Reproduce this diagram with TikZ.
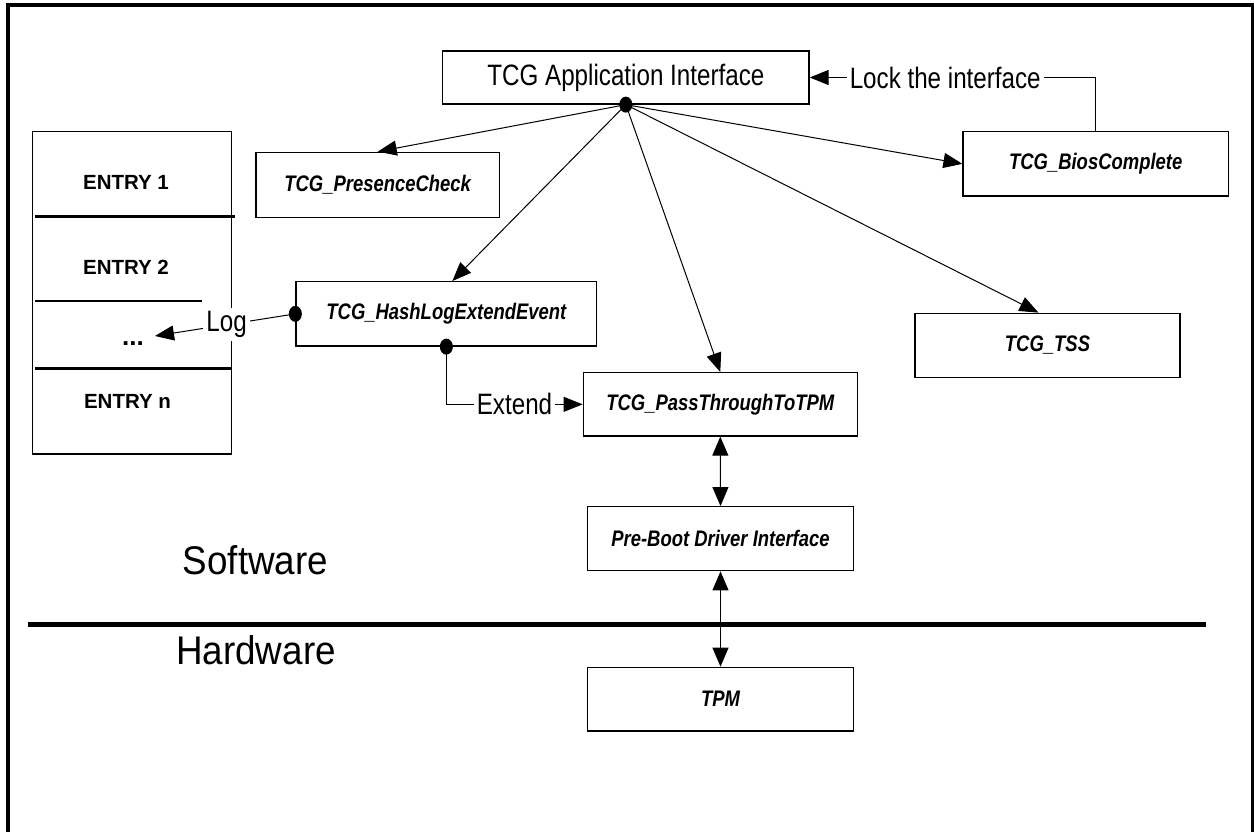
\documentclass[tikz,border=0pt]{standalone}
\usepackage{fontspec}
\setmainfont{Liberation Sans}
\newfontfamily\narrowfont[FakeStretch=0.82]{Liberation Sans}
\newfontfamily\semifont[FakeStretch=0.92]{Liberation Sans}
\usetikzlibrary{arrows.meta}
\begin{document}
\begin{tikzpicture}[x=1pt,y=-1pt,
  box/.style={draw, line width=1.3pt, inner sep=0pt,
    font=\narrowfont\fontsize{22.5}{26}\selectfont\bfseries\itshape},
  conn/.style={line width=1pt},
  arr/.style={conn, -{Triangle[length=19pt,width=15pt]}},
  darr/.style={conn, {Triangle[length=19pt,width=16pt]}-{Triangle[length=19pt,width=16pt]}},
  lbl/.style={fill=white, inner sep=3pt, font=\narrowfont\fontsize{29.5}{32}\selectfont},
  ent/.style={inner sep=0pt, font=\fontsize{20.5}{24}\selectfont\bfseries},
  sepline/.style={line width=2.6pt},
  big/.style={inner sep=0pt, anchor=base, font=\semifont\fontsize{40}{44}\selectfont},
  dot/.style={x radius=6.5pt, y radius=8pt}
]
\useasboundingbox (0,0) rectangle (1254,832);
% outer frame
\draw[line width=3.5pt] (6,5) -- (1254,5);
\draw[line width=4pt] (8,3) -- (8,832);
\draw[line width=2.6pt] (1252.7,3) -- (1252.7,832);
% software / hardware divider
\draw[line width=5pt] (28,624) -- (1206,624);

% log entries
\node[draw, line width=1.3pt, minimum width=199pt, minimum height=322.3pt, inner sep=0pt] (entries) at (132.2,292.85) {};
\draw[sepline] (35,216.7) -- (235,216.7);
\draw[sepline] (35,301) -- (201.7,301);
\draw[sepline] (35,368.7) -- (231.7,368.7);
\node[ent] (e1) at (126,182) {ENTRY 1};
\node[ent] (e2) at (126,267.5) {ENTRY 2};
\node[ent, anchor=base, font=\fontsize{26}{28}\selectfont\bfseries] (edots) at (133,345) {...};
\node[ent] (en) at (127.5,401.7) {ENTRY n};
\coordinate (logtip) at (155,336);

% boxes
\node[box, minimum width=366.3pt, minimum height=53pt,
  font=\narrowfont\fontsize{29.5}{32}\selectfont] (app) at (625.85,77.5) {TCG Application Interface};
\node[box, minimum width=243.3pt, minimum height=65pt] (presence) at (377.7,184.8) {TCG\_PresenceCheck};
\node[box, minimum width=265.3pt, minimum height=64.3pt] (bios) at (1095.7,163.85) {TCG\_BiosComplete};
\node[box, minimum width=300.7pt, minimum height=64.3pt] (hash) at (446.35,313.85) {TCG\_HashLogExtendEvent};
\node[box, minimum width=265pt, minimum height=64.4pt] (tss) at (1047.5,345.5) {TCG\_TSS};
\node[box, minimum width=274pt, minimum height=63.3pt] (pass) at (720.3,404.35) {TCG\_PassThroughToTPM};
\node[box, minimum width=265.6pt, minimum height=64pt] (preboot) at (720.5,538.7) {Pre-Boot Driver Interface};
\node[box, minimum width=265.6pt, minimum height=63.7pt] (tpm) at (720.5,699.15) {TPM};

% labels
\node[big] (sw) at (255.5,574) {Software};
\node[big] (hw) at (256,664) {Hardware};

% connectors from the application interface
\draw[arr] (app.south) -- (presence.north);
\draw[arr] (app.south) -- ([xshift=6pt]hash.north);
\draw[arr] (app.south) -- (pass.north);
\draw[arr] (app.south) -- ([xshift=-9pt]tss.north);
\draw[arr] (app.south) -- (bios.west);
\draw[arr] (bios.north) |- node[lbl, pos=0.763] {Lock the interface} (app.east);

% log and extend
\draw[arr] (hash.west) -- node[lbl, pos=0.49] {Log} (logtip);
\draw[arr] (hash.south) |- node[lbl, pos=0.75] {Extend} (pass.west);

% vertical chain
\draw[darr] (pass.south) -- (preboot.north);
\draw[darr] (preboot.south) -- (tpm.north);

% junction dots
\fill (app.south) ellipse [dot];
\fill (hash.west) ellipse [dot];
\fill (hash.south) ellipse [dot];
\end{tikzpicture}
\end{document}
